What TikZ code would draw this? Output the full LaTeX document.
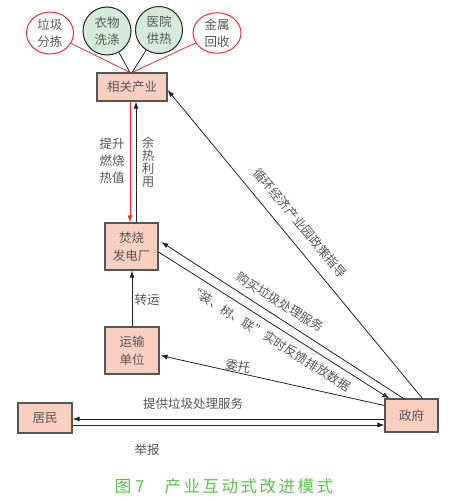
\documentclass[tikz,border=0pt]{standalone}
\usepackage{fontspec}
\setmainfont{Noto Sans CJK SC}
\usetikzlibrary{arrows.meta,shapes.geometric,calc}
\definecolor{boxfill}{HTML}{F9D0C0}
\definecolor{boxborder}{HTML}{555555}
\definecolor{greenfill}{HTML}{D3EBD8}
\definecolor{txt}{HTML}{555555}
\definecolor{capgreen}{HTML}{5BBF4A}
\definecolor{redline}{HTML}{E8302A}
\definecolor{linecol}{HTML}{222222}
\begin{document}
\begin{tikzpicture}[x=1pt,y=-1pt,
  box/.style={draw=boxborder, line width=1.1pt, fill=boxfill, text=txt,
    font=\fontsize{12.5}{18}\selectfont, align=center, inner sep=0pt},
  ovalred/.style={ellipse, draw=redline, fill=white, line width=1pt, text=txt,
    font=\fontsize{12.5}{17}\selectfont, align=center, inner sep=0pt},
  ovalgreen/.style={ellipse, draw=linecol, fill=greenfill, line width=1pt, text=txt,
    font=\fontsize{12.5}{17}\selectfont, align=center, inner sep=0pt},
  lbl/.style={text=txt, font=\fontsize{12.5}{17}\selectfont, inner sep=0pt, align=center},
  arr/.style={-{Latex[length=7pt,width=5pt]}, line width=0.8pt, draw=linecol},
  redarr/.style={-{Latex[length=7pt,width=5pt]}, line width=0.8pt, draw=redline, color=redline}]
\useasboundingbox (0,0) rectangle (450,501);

% top ovals
\node[ovalred, minimum width=47pt, minimum height=42pt] (e1) at (50,33) {垃圾\\分拣};
\node[ovalgreen, minimum width=48pt, minimum height=48pt] (e2) at (107,31) {衣物\\洗涤};
\node[ovalgreen, minimum width=47pt, minimum height=47pt] (e3) at (159,30) {医院\\供热};
\node[ovalred, minimum width=48pt, minimum height=40pt] (e4) at (217,33) {金属\\回收};

% boxes
\node[box, minimum width=70pt, minimum height=28pt] (xg) at (132,87) {相关产业};
\node[box, minimum width=53pt, minimum height=47pt] (fs) at (131.5,246.5) {焚烧\\发电厂};
\node[box, minimum width=54pt, minimum height=47pt] (ys) at (132,350.5) {运输\\单位};
\node[box, minimum width=53pt, minimum height=33pt] (zf) at (411.5,415.5) {政府};
\node[box, minimum width=54pt, minimum height=30pt] (jm) at (45,418) {居民};

% oval links
\draw[redline, line width=0.8pt] (e1) -- ([xshift=-2pt]xg.north);
\draw[linecol, line width=0.8pt] (e2) -- ([xshift=-2pt]xg.north);
\draw[linecol, line width=0.8pt] (e3) -- ([xshift=0pt]xg.north);
\draw[redline, line width=0.8pt] (e4) -- ([xshift=0pt]xg.north);

% vertical arrows
\draw[redarr] ([xshift=-2pt]xg.south) -- ([xshift=-1.5pt]fs.north);
\draw[arr] ([xshift=4.5pt]fs.north) -- ([xshift=4pt]xg.south);
\draw[arr] (ys.north) -- ([xshift=0.5pt]fs.south);

% diagonal arrows
\draw[arr] ([xshift=38pt]zf.north west) -- ([yshift=-3pt]xg.east);
\draw[arr, shorten >=1pt] ([xshift=19pt]zf.north west) -- ([xshift=2pt,yshift=5pt]fs.east);
\draw[arr] ([yshift=-5.5pt]fs.east) -- ([xshift=5pt]zf.north west);
\draw[arr] ([yshift=10pt]zf.west) -- ([xshift=1pt,yshift=-5pt]ys.east);

% horizontal arrows
\draw[arr] ([yshift=-3.5pt]zf.west) -- ([yshift=-1pt]jm.east);
\draw[arr] ([yshift=-7pt]jm.east) -- ([yshift=-9.5pt]zf.west);

% labels
\node[lbl, font=\fontsize{12.5}{17}\selectfont] (l1) at (112,161) {提升\\燃烧\\热值};
\node[lbl, font=\fontsize{12.5}{13}\selectfont] (l2) at (148,162) {余\\热\\利\\用};
\node[lbl] (l3) at (147,300) {转运};
\node[lbl, rotate=-50.4] (l4) at (300,223) {循环经济产业园政策指导};
\node[lbl, rotate=-32] (l5) at (280,302) {购买垃圾处理服务};
\node[lbl, rotate=-32] (l6) at (270,338) {“装、树、联”实时反馈排放数据};
\node[lbl, rotate=-12] (l7) at (238,366) {委托};
\node[lbl] (l8) at (193,404) {提供垃圾处理服务};
\node[lbl] (l9) at (147,450) {举报};

% caption
\node[text=capgreen, font=\fontsize{16.5}{20}\selectfont, inner sep=0pt] (cap) at (224,486)
  {图\hspace{4pt}7\hspace{20pt}产\hspace{2.5pt}业\hspace{2.5pt}互\hspace{2.5pt}动\hspace{2.5pt}式\hspace{2.5pt}改\hspace{2.5pt}进\hspace{2.5pt}模\hspace{2.5pt}式};
\end{tikzpicture}
\end{document}
